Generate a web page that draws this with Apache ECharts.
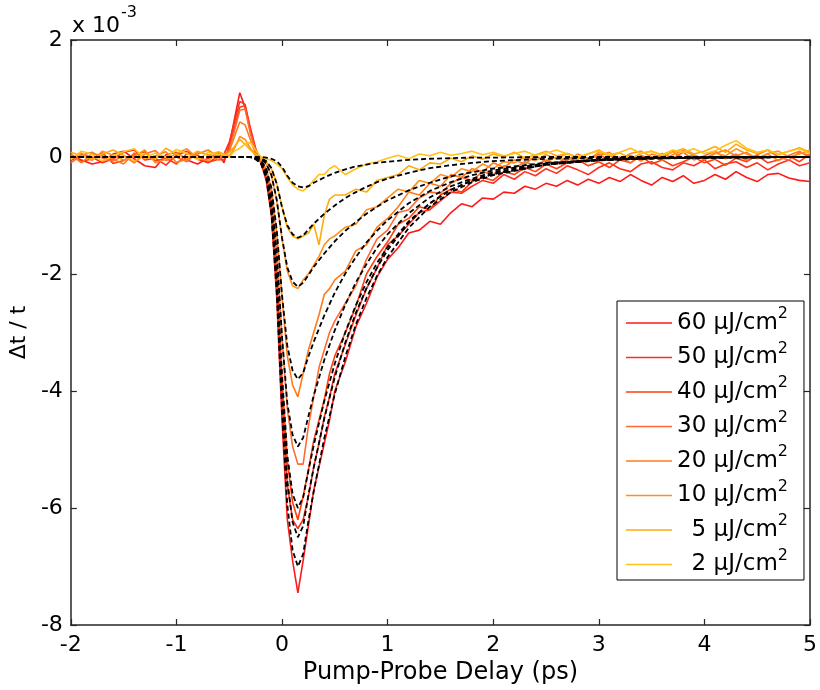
<!DOCTYPE html>
<html><head><meta charset="utf-8">
<script src="https://cdn.jsdelivr.net/npm/echarts@6/dist/echarts.min.js"></script>
<style>html,body{margin:0;padding:0;background:#fff}#c{width:820px;height:690px}</style>
</head><body><div id="c"></div>
<script>
// Fluence labels (µJ/cm²) and colours
const fluenceLabels = ['60','50','40','30','20','10','5','2'];
const lineColors = ['#ff1a1a','#ff2f1f','#ff3d0d','#ff6a35','#ff7a1a','#ff9020','#ffab10','#ffc21a'];

// Measured traces (units of 1e-3) on the delay grid tData (ps)
const tData = [-2.0,-1.9,-1.8,-1.7,-1.6,-1.5,-1.4,-1.3,-1.2,-1.1,-1.0,-0.9,-0.8,-0.7,-0.6,
 -0.55,-0.5,-0.45,-0.4,-0.35,-0.3,-0.25,-0.2,-0.15,-0.1,-0.05,0,0.05,0.1,0.15,0.2,0.25,0.3,0.35,0.4,0.45,0.5,
 0.6,0.7,0.8,0.9,1.0,1.1,1.2,1.3,1.4,1.5,1.6,1.7,1.8,1.9,2.0,2.1,2.2,2.3,2.4,2.5,2.6,2.7,2.8,2.9,3.0,
 3.1,3.2,3.3,3.4,3.5,3.6,3.7,3.8,3.9,4.0,4.1,4.2,4.3,4.4,4.5,4.6,4.7,4.8,4.9,5.0];
const d60 = [0.02,-0.05,-0.12,-0.08,0.05,0.1,-0.03,-0.15,-0.18,0.04,0.08,-0.05,-0.12,-0.02,0.06,
 -0.1,0.2,0.65,1.1,0.85,0.45,0.1,-0.1,-0.4,-1.0,-2.4,-4.5,-6.2,-6.9,-7.45,-6.9,-6.3,-5.7,-5.3,-4.9,-4.5,-4.0,
 -3.5,-2.9,-2.5,-2.05,-1.75,-1.55,-1.3,-1.25,-1.1,-1.15,-0.95,-0.8,-0.85,-0.7,-0.72,-0.6,-0.62,-0.5,-0.55,-0.45,-0.5,-0.4,-0.48,-0.38,-0.45,
 -0.35,-0.42,-0.3,-0.4,-0.48,-0.35,-0.42,-0.32,-0.45,-0.4,-0.3,-0.38,-0.25,-0.35,-0.42,-0.3,-0.28,-0.36,-0.4,-0.42];
const d50 = [-0.06,0.04,0.0,-0.1,-0.03,0.08,0.12,-0.05,-0.02,-0.14,0.03,0.1,-0.04,-0.1,0.02,
 0.05,0.25,0.6,0.95,0.9,0.5,0.15,-0.08,-0.35,-0.95,-2.2,-4.1,-5.6,-6.2,-6.35,-6.2,-5.8,-5.3,-4.9,-4.45,-4.1,-3.7,
 -3.2,-2.7,-2.25,-1.9,-1.5,-1.35,-1.15,-0.95,-0.9,-0.75,-0.6,-0.62,-0.5,-0.4,-0.45,-0.3,-0.38,-0.25,-0.32,-0.2,-0.28,-0.15,-0.22,-0.3,-0.18,
 -0.1,-0.2,-0.25,-0.12,-0.08,-0.18,-0.22,-0.1,-0.15,-0.05,-0.2,-0.12,-0.08,-0.18,-0.1,-0.22,-0.12,-0.05,-0.15,-0.1];
const d40 = [0.05,-0.08,-0.03,0.07,-0.11,-0.06,0.04,0.09,-0.07,-0.02,-0.12,0.06,0.03,-0.09,-0.04,
 -0.05,0.15,0.5,0.85,0.88,0.45,0.12,-0.1,-0.3,-0.85,-2.0,-3.8,-5.2,-5.9,-6.2,-5.8,-5.35,-4.85,-4.5,-4.15,-3.7,-3.4,
 -3.0,-2.55,-2.0,-1.7,-1.45,-1.15,-1.05,-0.85,-0.9,-0.65,-0.55,-0.6,-0.42,-0.35,-0.4,-0.25,-0.3,-0.18,-0.25,-0.12,-0.2,-0.1,-0.05,-0.15,-0.08,
 -0.18,-0.05,-0.1,0.02,-0.12,-0.05,-0.15,-0.08,0.0,-0.1,-0.04,-0.14,-0.02,-0.08,0.03,-0.1,-0.05,0.02,-0.08,0.05];
const d30 = [-0.1,0.03,0.08,-0.02,-0.07,0.02,-0.1,0.05,0.11,-0.06,0.0,-0.08,0.09,0.04,-0.05,
 0.03,0.12,0.45,0.8,0.82,0.4,0.1,-0.08,-0.25,-0.7,-1.65,-3.1,-4.3,-4.95,-5.25,-5.25,-4.6,-4.1,-3.6,-3.3,-3.0,-2.8,
 -2.5,-2.2,-1.75,-1.4,-1.25,-0.95,-0.9,-0.7,-0.6,-0.62,-0.45,-0.35,-0.4,-0.25,-0.3,-0.15,-0.2,-0.08,-0.15,-0.05,-0.12,0.0,-0.08,-0.02,0.05,
 -0.06,0.0,-0.1,0.03,-0.04,0.06,-0.02,0.08,-0.05,0.02,0.1,-0.03,0.05,-0.06,0.04,0.12,0.0,-0.05,0.08,0.02];
const d20 = [0.04,-0.1,0.06,0.02,-0.04,-0.12,0.07,-0.03,0.02,0.09,-0.09,-0.04,0.05,0.12,0.0,
 0.0,0.1,0.35,0.6,0.55,0.3,0.05,-0.06,-0.2,-0.55,-1.3,-2.4,-3.4,-3.9,-4.1,-3.7,-3.3,-3.0,-2.7,-2.35,-2.25,-2.1,
 -1.95,-1.6,-1.5,-1.2,-1.05,-0.85,-0.6,-0.65,-0.45,-0.5,-0.3,-0.35,-0.2,-0.25,-0.1,-0.18,-0.05,-0.12,0.02,-0.08,0.0,-0.06,0.05,-0.03,0.02,
 0.08,-0.04,0.03,-0.07,0.05,0.0,0.09,-0.02,0.04,-0.05,0.06,0.12,0.02,0.08,-0.03,0.05,-0.06,0.03,0.1,-0.02];
const d10 = [-0.03,0.07,-0.06,0.1,0.03,-0.05,0.01,0.12,-0.1,-0.04,0.06,0.14,-0.02,-0.06,0.08,
 0.05,0.02,0.15,0.35,0.3,0.15,0.02,-0.05,-0.12,-0.32,-0.75,-1.4,-1.95,-2.2,-2.25,-2.1,-2.0,-1.85,-1.7,-1.5,-1.4,-1.35,
 -1.2,-1.15,-0.9,-0.85,-0.7,-0.55,-0.6,-0.4,-0.45,-0.3,-0.35,-0.2,-0.25,-0.12,-0.2,-0.08,-0.1,0.0,-0.06,0.04,-0.03,0.06,0.0,-0.05,0.08,
 0.02,-0.04,0.06,0.1,0.0,-0.05,0.04,0.11,0.03,-0.03,0.07,0.02,0.14,0.05,-0.02,0.06,0.1,0.0,0.05,0.12];
const d5 = [0.08,0.02,-0.04,0.05,0.12,0.03,-0.08,0.06,-0.03,0.15,0.05,-0.02,0.1,0.03,0.09,
 0.02,0.08,0.18,0.3,0.22,0.12,0.05,-0.02,-0.08,-0.2,-0.45,-0.85,-1.2,-1.35,-1.4,-1.35,-1.3,-1.15,-1.5,-1.0,-0.72,-0.65,
 -0.65,-0.55,-0.6,-0.4,-0.35,-0.3,-0.15,-0.22,-0.1,-0.12,-0.02,-0.08,0.02,-0.04,0.05,0.0,0.08,-0.02,0.04,0.1,0.02,0.06,-0.03,0.05,0.12,
 0.02,0.07,-0.02,0.06,0.1,0.03,0.08,0.14,0.05,0.1,0.18,0.08,0.22,0.12,0.06,0.12,0.04,0.1,0.16,0.08];
const d2 = [-0.04,0.1,0.05,-0.07,0.02,0.09,0.14,-0.02,0.07,0.0,0.13,0.06,-0.05,0.08,0.04,
 0.05,0.0,0.1,0.15,0.22,0.25,0.12,0.0,-0.03,-0.06,-0.12,-0.2,-0.35,-0.48,-0.55,-0.58,-0.5,-0.4,-0.3,-0.3,-0.2,-0.15,
 -0.3,-0.2,-0.12,-0.08,-0.02,0.03,-0.03,0.05,0.02,0.08,0.03,0.06,0.1,0.04,0.08,0.02,0.06,0.1,0.03,0.07,0.12,0.05,0.0,0.06,0.1,
 0.04,0.08,0.15,0.06,0.1,0.04,0.12,0.08,0.14,0.06,0.1,0.2,0.28,0.15,0.08,0.12,0.05,0.1,0.14,0.06];

// Fitted curves (units of 1e-3) on the grid tFit (ps)
const tFit = [-2,-0.5,-0.3,-0.25,-0.2,-0.15,-0.1,-0.05,0,0.05,0.1,0.15,0.2,0.25,0.3,0.4,0.5,0.6,0.7,0.8,0.9,1.0,1.2,1.4,1.6,1.8,2.0,2.5,3.0,3.5,4.0,5.0];
const f60 = [0,0,0,-0.04,-0.11,-0.35,-0.98,-2.31,-4.34,-5.95,-6.72,-7.0,-6.79,-6.22,-5.72,-4.81,-4.05,-3.41,-2.86,-2.41,-2.03,-1.71,-1.21,-0.85,-0.60,-0.43,-0.31,-0.13,-0.06,-0.02,-0.01,0];
const f50 = [0,0,0,-0.03,-0.10,-0.33,-0.91,-2.15,-4.03,-5.53,-6.24,-6.5,-6.31,-5.78,-5.31,-4.47,-3.76,-3.17,-2.66,-2.24,-1.89,-1.59,-1.12,-0.79,-0.56,-0.40,-0.29,-0.12,-0.05,-0.02,-0.01,0];
const f40 = [0,0,0,-0.03,-0.09,-0.30,-0.84,-1.98,-3.72,-5.10,-5.76,-6.0,-5.82,-5.36,-4.93,-4.17,-3.53,-2.99,-2.53,-2.14,-1.81,-1.54,-1.10,-0.79,-0.56,-0.40,-0.29,-0.13,-0.05,-0.02,-0.01,0];
const f30 = [0,0,0,-0.02,-0.07,-0.25,-0.69,-1.63,-3.07,-4.21,-4.75,-4.95,-4.80,-4.43,-4.08,-3.47,-2.96,-2.52,-2.14,-1.83,-1.55,-1.32,-0.96,-0.69,-0.50,-0.37,-0.26,-0.12,-0.05,-0.02,-0.01,0];
const f20 = [0,0,0,-0.02,-0.06,-0.19,-0.53,-1.25,-2.36,-3.23,-3.65,-3.8,-3.69,-3.41,-3.16,-2.71,-2.32,-1.99,-1.71,-1.46,-1.26,-1.08,-0.79,-0.58,-0.43,-0.31,-0.23,-0.11,-0.05,-0.02,-0.01,0];
const f10 = [0,0,0,-0.01,-0.03,-0.11,-0.31,-0.73,-1.38,-1.89,-2.13,-2.22,-2.15,-2.02,-1.88,-1.65,-1.44,-1.26,-1.11,-0.97,-0.85,-0.74,-0.57,-0.44,-0.33,-0.26,-0.20,-0.10,-0.05,-0.03,-0.01,0];
const f5  = [0,0,0,-0.01,-0.02,-0.07,-0.19,-0.46,-0.86,-1.17,-1.32,-1.38,-1.34,-1.24,-1.14,-0.97,-0.83,-0.70,-0.60,-0.51,-0.43,-0.37,-0.27,-0.19,-0.14,-0.10,-0.07,-0.03,-0.02,-0.01,0,0];
const f2  = [0,0,0,0,0,-0.01,-0.03,-0.07,-0.17,-0.32,-0.44,-0.50,-0.52,-0.50,-0.44,-0.35,-0.27,-0.21,-0.16,-0.13,-0.10,-0.08,-0.05,-0.03,-0.02,-0.01,-0.01,0,0,0,0,0];

// Axis ticks
const xMin = -2, xMax = 5, xStep = 1;
const yMin = -8, yMax = 2, yStep = 2;

const dataSets = [d60,d50,d40,d30,d20,d10,d5,d2];
const fitSets = [f60,f50,f40,f30,f20,f10,f5,f2];
const pair = (xs, ys) => xs.map((x, i) => [x, ys[i]]);
const FONT = 'DejaVu Sans';
const AX = '#262626';

const series = [];
dataSets.forEach((ys, i) => {
  series.push({
    name: fluenceLabels[i], type: 'line', data: pair(tData, ys),
    symbol: 'none', lineStyle: { color: lineColors[i], width: 1.6 },
    itemStyle: { color: lineColors[i] }, z: 2
  });
});
fitSets.forEach((ys, i) => {
  series.push({
    name: 'fit' + fluenceLabels[i], type: 'line', data: pair(tFit, ys),
    symbol: 'none', lineStyle: { color: '#000', width: 1.8, type: [5, 3] },
    itemStyle: { color: '#000' }, z: 3
  });
});

const axisCommon = {
  type: 'value', splitLine: { show: false },
  axisLine: { show: true, onZero: false, lineStyle: { color: AX, width: 1.5 } },
  axisTick: { show: true, inside: true, length: 6, lineStyle: { color: AX, width: 1.2 } }
};

const chart = echarts.init(document.getElementById('c'), null, { renderer: 'canvas' });
chart.setOption({
  animation: false,
  backgroundColor: '#fff',
  grid: { left: 70, right: 7, top: 40, bottom: 65 },
  xAxis: [
    Object.assign({}, axisCommon, {
      min: xMin, max: xMax, interval: xStep, position: 'bottom',
      axisLabel: { color: '#000', fontSize: 22, fontFamily: FONT, margin: 9 },
      name: 'Pump-Probe Delay (ps)', nameLocation: 'middle', nameGap: 33,
      nameTextStyle: { color: '#000', fontSize: 24, fontFamily: FONT }
    }),
    Object.assign({}, axisCommon, {
      min: xMin, max: xMax, interval: xStep, position: 'top', axisLabel: { show: false }
    })
  ],
  yAxis: [
    Object.assign({}, axisCommon, {
      min: yMin, max: yMax, interval: yStep, position: 'left',
      axisLabel: { color: '#000', fontSize: 22, fontFamily: FONT, margin: 8 },
      name: 'Δt / t', nameLocation: 'middle', nameGap: 24, nameRotate: 90,
      nameTextStyle: { color: '#000', fontSize: 22, fontFamily: FONT }
    }),
    Object.assign({}, axisCommon, {
      min: yMin, max: yMax, interval: yStep, position: 'right', axisLabel: { show: false }
    })
  ],
  legend: {
    data: fluenceLabels,
    orient: 'vertical', left: 617, top: 301,
    backgroundColor: '#fff', borderColor: '#000', borderWidth: 1, borderRadius: 0,
    padding: [5, 16, 4, 9], itemWidth: 46, itemHeight: 1.6, itemGap: 6,
    icon: 'rect',
    selectedMode: false,
    formatter: n => '{a|' + (n.length === 1 ? '  ' : '') + n + ' μJ/cm}{s|2}',
    textStyle: {
      color: '#000', fontFamily: FONT,
      rich: {
        a: { fontSize: 23, fontFamily: FONT, color: '#000' },
        s: { fontSize: 16, fontFamily: FONT, color: '#000', padding: [0, 0, 18, 0] }
      }
    }
  },
  graphic: [
    { type: 'text', left: 72, top: 15, style: { text: 'x 10', fill: '#000', font: '22px "DejaVu Sans"' } },
    { type: 'text', left: 121, top: 5, style: { text: '-3', fill: '#000', font: '16px "DejaVu Sans"' } }
  ],
  series: series
});
</script></body></html>
